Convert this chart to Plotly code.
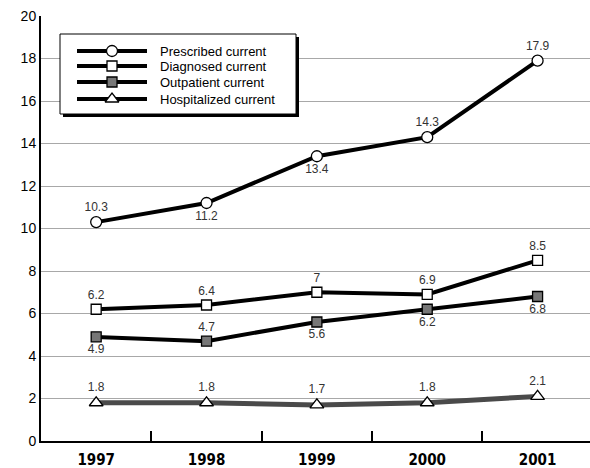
import plotly.graph_objects as go

years = ["1997", "1998", "1999", "2000", "2001"]
prescribed = [10.3, 11.2, 13.4, 14.3, 17.9]
diagnosed = [6.2, 6.4, 7, 6.9, 8.5]
outpatient = [4.9, 4.7, 5.6, 6.2, 6.8]
hospitalized = [1.8, 1.8, 1.7, 1.8, 2.1]

names = ["Prescribed current", "Diagnosed current", "Outpatient current", "Hospitalized current"]
pos_prescribed = ["top center", "bottom center", "bottom center", "top center", "top center"]
pos_diagnosed = ["top center"] * 5
pos_outpatient = ["bottom center", "top center", "bottom center", "bottom center", "bottom center"]
pos_hospitalized = ["top center"] * 5

FONT = "Liberation Sans, Arial, sans-serif"
LBL = dict(family=FONT, size=12, color="#333333")

styles = [
    dict(line=dict(color="black", width=4),
         marker=dict(symbol="circle", size=11, color="white", line=dict(color="black", width=1.3))),
    dict(line=dict(color="black", width=4),
         marker=dict(symbol="square", size=10, color="white", line=dict(color="black", width=1.3))),
    dict(line=dict(color="black", width=4),
         marker=dict(symbol="square", size=10, color="#777777", line=dict(color="black", width=1.3))),
    dict(line=dict(color="#4a4a4a", width=5),
         marker=dict(symbol="triangle-up", size=12, color="white", line=dict(color="black", width=1.3))),
]
series = [prescribed, diagnosed, outpatient, hospitalized]
positions = [pos_prescribed, pos_diagnosed, pos_outpatient, pos_hospitalized]

fig = go.Figure()
order = [3, 2, 1, 0]
for i in order:
    fig.add_trace(go.Scatter(
        x=years, y=series[i], mode="lines+markers+text", name=names[i],
        text=[("%g" % v) for v in series[i]], textposition=positions[i],
        textfont=LBL, showlegend=False, cliponaxis=False, **styles[i]))

# custom legend drawn on an overlay axis measured in pixels
W, H = 590, 468
L, R, T, B = 41, 0, 16, 27
box = dict(x0=60, x1=296, y0=34, y1=114)
shadow = 3
row_y = [51, 66, 82, 99]

fig.add_trace(go.Scatter(
    x=[box["x0"] + shadow, box["x1"] + shadow, box["x1"] + shadow, box["x0"] + shadow, box["x0"] + shadow],
    y=[box["y0"] + shadow, box["y0"] + shadow, box["y1"] + shadow, box["y1"] + shadow, box["y0"] + shadow],
    mode="lines", fill="toself", fillcolor="black", line=dict(color="black", width=0),
    xaxis="x2", yaxis="y2", showlegend=False, hoverinfo="skip"))
fig.add_trace(go.Scatter(
    x=[box["x0"], box["x1"], box["x1"], box["x0"], box["x0"]],
    y=[box["y0"], box["y0"], box["y1"], box["y1"], box["y0"]],
    mode="lines", fill="toself", fillcolor="white", line=dict(color="black", width=1),
    xaxis="x2", yaxis="y2", showlegend=False, hoverinfo="skip"))

for i in range(4):
    fig.add_trace(go.Scatter(
        x=[77, 147], y=[row_y[i], row_y[i]], mode="lines", xaxis="x2", yaxis="y2",
        line=dict(color="black", width=4), showlegend=False, hoverinfo="skip"))
    fig.add_trace(go.Scatter(
        x=[112], y=[row_y[i]], mode="markers", xaxis="x2", yaxis="y2",
        marker=styles[i]["marker"], showlegend=False, hoverinfo="skip"))
    fig.add_annotation(x=158, y=row_y[i], xref="x2", yref="y2", text=names[i],
                       showarrow=False, xanchor="left", yanchor="middle",
                       font=dict(family=FONT, size=13, color="black"))

fig.update_layout(
    width=W, height=H,
    margin=dict(l=L, r=R, t=T, b=B),
    paper_bgcolor="white", plot_bgcolor="white",
    showlegend=False,
    xaxis=dict(type="category", range=[-0.5, 4.475], showgrid=False,
               showline=True, linecolor="black", linewidth=2,
               ticks="inside", tickson="boundaries", ticklen=10, tickwidth=1.5, tickcolor="black",
               tickfont=dict(family="Liberation Sans Narrow, DejaVu Sans Condensed, Arial Narrow, sans-serif",
                             size=15, color="black", weight="bold"),
               ticklabelstandoff=4, fixedrange=True),
    yaxis=dict(range=[0, 20], dtick=2, showgrid=True, gridcolor="#a8a8a8", gridwidth=1,
               showline=True, linecolor="black", linewidth=2, zeroline=False, ticks="",
               tickfont=dict(family=FONT, size=14, color="black"), fixedrange=True),
    xaxis2=dict(overlaying="x", range=[L, W - R], visible=False, fixedrange=True),
    yaxis2=dict(overlaying="y", range=[H - B, T], visible=False, fixedrange=True),
)

fig.write_html("out.html", config={"displayModeBar": False},
               post_script="document.body.style.margin='0';")
